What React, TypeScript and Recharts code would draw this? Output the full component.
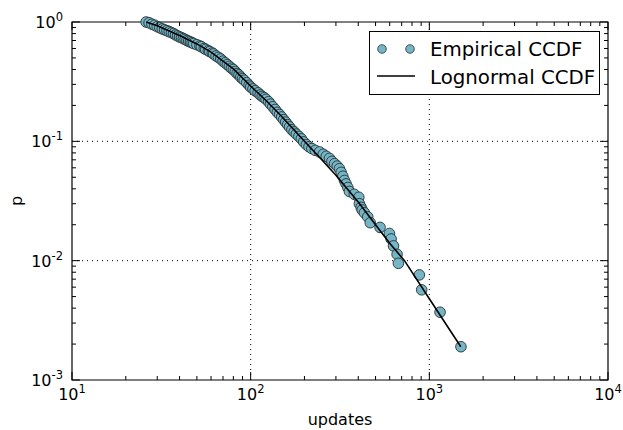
import React from 'react';
import { ComposedChart, Scatter, XAxis, YAxis, ReferenceLine, ReferenceArea, Label } from 'recharts';

// empirical CCDF of updates
const empiricalX = [
    26, 27, 28, 29, 30, 31, 32, 33, 34, 35, 36, 37, 38, 39, 40, 41, 42, 43, 44, 45, 46, 47, 48, 50, 52, 53, 55, 56,
    58, 59, 61, 62, 64, 66, 68, 70, 72, 74, 76, 78, 80, 82, 84, 86, 88, 90, 92, 95, 98, 100, 103, 106, 110, 113,
    116, 119, 122, 126, 129, 133, 137, 141, 145, 149, 153, 157, 161, 165, 170, 175, 180, 186, 192, 198, 205, 212,
    220, 230, 243, 255, 265, 276, 285, 295, 305, 314, 321, 328, 335, 342, 350, 357, 380, 403, 406, 415, 421, 433,
    452, 467, 530, 598, 611, 630, 660, 671, 879, 906, 1148, 1503,
];
const empiricalP = [
    1.0, 0.985, 0.96, 0.94, 0.915, 0.895, 0.875, 0.86, 0.845, 0.83, 0.815, 0.8, 0.78, 0.765, 0.75, 0.74, 0.725,
    0.715, 0.7, 0.69, 0.68, 0.67, 0.66, 0.645, 0.63, 0.62, 0.6, 0.59, 0.575, 0.565, 0.55, 0.54, 0.52, 0.505, 0.49,
    0.47, 0.455, 0.44, 0.425, 0.41, 0.4, 0.385, 0.37, 0.36, 0.345, 0.335, 0.325, 0.31, 0.295, 0.285, 0.275, 0.265,
    0.255, 0.245, 0.238, 0.232, 0.225, 0.215, 0.205, 0.195, 0.185, 0.175, 0.168, 0.16, 0.152, 0.145, 0.138, 0.132,
    0.125, 0.12, 0.115, 0.11, 0.105, 0.099, 0.094, 0.09, 0.087, 0.084, 0.0815, 0.078, 0.075, 0.072, 0.068, 0.065,
    0.062, 0.059, 0.055, 0.051, 0.047, 0.044, 0.041, 0.038, 0.036, 0.034, 0.03, 0.028, 0.0266, 0.0252, 0.0233,
    0.0208, 0.019, 0.0169, 0.0152, 0.0133, 0.0113, 0.0095, 0.0076, 0.0057, 0.0037, 0.0019,
];

// fitted lognormal CCDF
const lognormalX = [26, 30, 40, 50, 60, 70, 80, 100, 120, 150, 200, 250, 300, 400, 500, 600, 726, 1000, 1500];
const lognormalP = [
    1.0, 0.93, 0.77, 0.655, 0.56, 0.47, 0.405, 0.29, 0.225, 0.16, 0.1, 0.07, 0.052, 0.031, 0.02, 0.014, 0.01,
    0.0048, 0.0019,
];

const xMajorTicks = [10, 100, 1000, 10000];
const xMajorExp = ['1', '2', '3', '4'];
const xMinorTicks = [
    20, 30, 40, 50, 60, 70, 80, 90, 200, 300, 400, 500, 600, 700, 800, 900, 2000, 3000, 4000, 5000, 6000, 7000,
    8000, 9000,
];
const yMajorTicks = [0.001, 0.01, 0.1, 1];
const yMajorExp = ['-3', '-2', '-1', '0'];
const yMinorTicks = [
    0.002, 0.003, 0.004, 0.005, 0.006, 0.007, 0.008, 0.009, 0.02, 0.03, 0.04, 0.05, 0.06, 0.07, 0.08, 0.09, 0.2,
    0.3, 0.4, 0.5, 0.6, 0.7, 0.8, 0.9,
];
const xGrid = [100, 1000];
const yGrid = [0.01, 0.1];

const FONT = '"DejaVu Sans", sans-serif';
const MARKER_FILL = '#76b5c5';
const MARKER_EDGE = '#243236';

const W = 623;
const H = 430;
const LEFT = 72;
const TOP = 22;
const RIGHT = 608;
const BOTTOM = 380;

const empiricalData = empiricalX.map((x, i) => ({ x, p: empiricalP[i] }));
const lognormalData = lognormalX.map((x, i) => ({ x, p: lognormalP[i] }));

const XTick = (props: any) => {
    const { x, payload } = props;
    const idx = xMajorTicks.indexOf(payload.value);
    const len = idx >= 0 ? 8 : 4;
    return (
        <g>
            <line x1={x} y1={BOTTOM} x2={x} y2={BOTTOM - len} stroke="#000" strokeWidth={1} />
            <line x1={x} y1={TOP} x2={x} y2={TOP + len} stroke="#000" strokeWidth={1} />
            {idx >= 0 && (
                <text x={x} y={400} textAnchor="middle" fontFamily={FONT} fontSize={16} fill="#000">
                    10
                    <tspan dy={-7} fontSize={11.5}>{xMajorExp[idx]}</tspan>
                </text>
            )}
        </g>
    );
};

const YTick = (props: any) => {
    const { y, payload } = props;
    const idx = yMajorTicks.indexOf(payload.value);
    const len = idx >= 0 ? 8 : 4;
    return (
        <g>
            <line x1={LEFT} y1={y} x2={LEFT + len} y2={y} stroke="#000" strokeWidth={1} />
            <line x1={RIGHT} y1={y} x2={RIGHT - len} y2={y} stroke="#000" strokeWidth={1} />
            {idx >= 0 && (
                <text x={63} y={y + 6} textAnchor="end" fontFamily={FONT} fontSize={16} fill="#000">
                    10
                    <tspan dy={-7} fontSize={11.5}>{yMajorExp[idx]}</tspan>
                </text>
            )}
        </g>
    );
};

const dot = (props: any) => (
    <circle cx={props.cx} cy={props.cy} r={5.3} fill={MARKER_FILL} stroke={MARKER_EDGE} strokeWidth={0.9} />
);

const LegendBox = () => (
    <div
        style={{
            position: 'absolute',
            left: 369,
            top: 31,
            width: 231,
            height: 64,
            boxSizing: 'border-box',
            border: '1px solid #000',
            background: '#fff',
        }}
    >
        <svg width={231} height={64} style={{ position: 'absolute', left: 0, top: 0 }}>
            <circle cx={12} cy={17} r={4.3} fill={MARKER_FILL} stroke={MARKER_EDGE} strokeWidth={0.8} />
            <circle cx={40} cy={17} r={4.3} fill={MARKER_FILL} stroke={MARKER_EDGE} strokeWidth={0.8} />
            <line x1={7} y1={44} x2={45} y2={44} stroke="#000" strokeWidth={1.5} />
            <text x={60} y={24} fontFamily={FONT} fontSize={19.8} fill="#000">Empirical CCDF</text>
            <text x={60} y={52} fontFamily={FONT} fontSize={19.8} fill="#000">Lognormal CCDF</text>
        </svg>
    </div>
);

export default function App() {
    return (
        <div style={{ position: 'absolute', left: 0, top: 0, width: W, height: H, background: '#fff' }}>
            <ComposedChart
                width={W}
                height={H}
                margin={{ top: TOP, right: W - RIGHT, bottom: 0, left: 0 }}
            >
                <XAxis
                    xAxisId={0}
                    type="number"
                    dataKey="x"
                    scale="log"
                    domain={[10, 10000]}
                    ticks={[...xMajorTicks, ...xMinorTicks]}
                    interval={0}
                    tick={<XTick />}
                    tickLine={false}
                    axisLine={false}
                    height={H - BOTTOM}
                >
                    <Label
                        content={() => (
                            <text x={(LEFT + RIGHT) / 2} y={425} textAnchor="middle" fontFamily={FONT} fontSize={16} fill="#000">
                                updates
                            </text>
                        )}
                    />
                </XAxis>
                <YAxis
                    yAxisId={0}
                    type="number"
                    dataKey="p"
                    scale="log"
                    domain={[0.001, 1]}
                    ticks={[...yMajorTicks, ...yMinorTicks]}
                    interval={0}
                    tick={<YTick />}
                    tickLine={false}
                    axisLine={false}
                    width={LEFT}
                >
                    <Label
                        content={() => (
                            <text
                                x={22}
                                y={201}
                                transform="rotate(-90 22 201)"
                                textAnchor="middle"
                                fontFamily={FONT}
                                fontSize={16}
                                fill="#000"
                            >
                                p
                            </text>
                        )}
                    />
                </YAxis>
                {xGrid.map((v) => (
                    <ReferenceLine key={'gx' + v} x={v} stroke="#000" strokeWidth={1} strokeDasharray="1 4" />
                ))}
                {yGrid.map((v) => (
                    <ReferenceLine key={'gy' + v} y={v} stroke="#000" strokeWidth={1} strokeDasharray="1 4" />
                ))}
                <Scatter data={empiricalData} shape={dot} isAnimationActive={false} />
                <Scatter
                    data={lognormalData}
                    line={{ stroke: '#000', strokeWidth: 1.6 }}
                    lineType="joint"
                    shape={() => <g />}
                    isAnimationActive={false}
                />
                <ReferenceArea x1={10} x2={10000} y1={0.001} y2={1} fill="none" stroke="#000" strokeWidth={1.2} ifOverflow="visible" />
            </ComposedChart>
            <LegendBox />
        </div>
    );
}
